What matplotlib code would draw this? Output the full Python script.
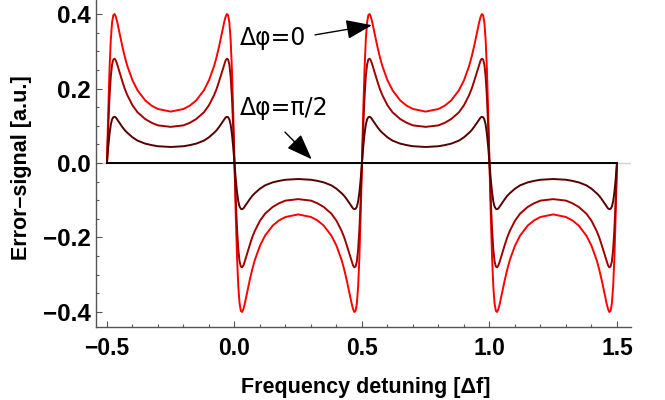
import numpy as np
import matplotlib.pyplot as plt
from matplotlib.ticker import MultipleLocator

plt.rcParams['font.family'] = ['Liberation Sans', 'DejaVu Sans']

# offsets inside one half period of the detuning axis
half_u = [0, .005, .01, .015, .02, .025, .03, .035, .04, .05, .06, .07, .08,
          .10, .12, .15, .175, .20, .25, .30, .325, .35, .38, .40, .42, .43,
          .44, .45, .46, .465, .47, .475, .48, .485, .49, .495, .5]

# error signal over one half period
sig_dphi0 = [0, .137, .251, .331, .377, .397, .400, .392, .379, .346, .314,
             .285, .260, .222, .195, .168, .154, .145, .138, .145, .154, .168,
             .195, .222, .260, .285, .314, .346, .379, .392, .400, .397, .377,
             .331, .251, .137, 0]
sig_mid = [0, .096, .176, .232, .264, .278, .280, .275, .265, .242, .220,
           .199, .182, .155, .136, .118, .108, .101, .097, .101, .108, .118,
           .136, .155, .182, .199, .220, .242, .265, .275, .280, .278, .264,
           .232, .176, .096, 0]
sig_inner = [0, .043, .078, .103, .117, .123, .124, .122, .117, .107, .097,
             .088, .081, .069, .060, .052, .048, .045, .043, .045, .048, .052,
             .060, .069, .081, .088, .097, .107, .117, .122, .124, .123, .117,
             .103, .078, .043, 0]
sig_dphi_pi2 = [0.0] * len(half_u)

# the pattern repeats every half period with alternating sign
half_starts = [-0.5, 0.0, 0.5, 1.0]
half_signs = [1, -1, 1, -1]

x_ticks = [-0.5, 0.0, 0.5, 1.0, 1.5]
y_ticks = [-0.4, -0.2, 0.0, 0.2, 0.4]


def full_curve(profile):
    xs, ys = [], []
    for start, sign in zip(half_starts, half_signs):
        xs.extend(start + u for u in half_u)
        ys.extend(sign * v for v in profile)
    return np.array(xs), np.array(ys)


W, H = 665, 400
fig = plt.figure(figsize=(W / 100, H / 100), dpi=100)
ax = fig.add_axes([96 / W, 73 / H, 535 / W, 327 / H])

ax.axhline(0, color='#d0d0d0', lw=1.0, zorder=0)

curves = [(sig_dphi0, '#ff0000'), (sig_mid, '#a00000'),
          (sig_inner, '#560000'), (sig_dphi_pi2, '#000000')]
for prof, col in curves:
    x, y = full_curve(prof)
    ax.plot(x, y, color=col, lw=1.4, solid_joinstyle='round')

ax.set_xlim(-0.543, 1.555)
ax.set_ylim(-0.4403, 0.4376)

for s in ['top', 'right']:
    ax.spines[s].set_visible(False)
for s in ['left', 'bottom']:
    ax.spines[s].set_color('#555555')
    ax.spines[s].set_linewidth(1.0)

ax.set_xticks(x_ticks)
ax.set_yticks(y_ticks)
ax.set_xticklabels([f'{v:.1f}'.replace('-', '\u2212') for v in x_ticks])
ax.set_yticklabels([f'{v:.1f}'.replace('-', '\u2212') for v in y_ticks])
ax.xaxis.set_minor_locator(MultipleLocator(0.1))
ax.yaxis.set_minor_locator(MultipleLocator(0.05))
ax.tick_params(which='both', direction='in', color='#555555', width=0.8)
ax.tick_params(which='major', length=4.5)
ax.tick_params(which='minor', length=2.5)
ax.tick_params(axis='x', pad=7, labelsize=16.5)
ax.tick_params(axis='y', pad=4, labelsize=17.5)
for lab in ax.get_xticklabels() + ax.get_yticklabels():
    lab.set_fontweight('bold')

fig.text(366 / W, 1 - 387 / H, 'Frequency detuning [\u0394f]', ha='center',
         va='center', fontsize=15.5, fontweight='bold')
fig.text(22 / W, 1 - 168 / H, 'Error\u2013signal [a.u.]', ha='center',
         va='center', rotation=90, fontsize=15.5, fontweight='bold')

# labels with arrows
ax.text(0.022, 0.336, '\u0394\u03c6=0', fontsize=17, va='center', ha='left',
        family=['DejaVu Sans'])
ax.text(0.022, 0.148, '\u0394\u03c6=\u03c0/2', fontsize=17, va='center',
        ha='left', family=['DejaVu Sans'])
arrow = dict(arrowstyle='-|>,head_length=0.8,head_width=0.3', color='black',
             lw=1.0, mutation_scale=20, shrinkA=0, shrinkB=0)
ax.annotate('', xy=(0.539, 0.370), xytext=(0.316, 0.344), arrowprops=arrow)
ax.annotate('', xy=(0.303, 0.010), xytext=(0.198, 0.083), arrowprops=arrow)

fig.savefig('out.png', dpi=100)
